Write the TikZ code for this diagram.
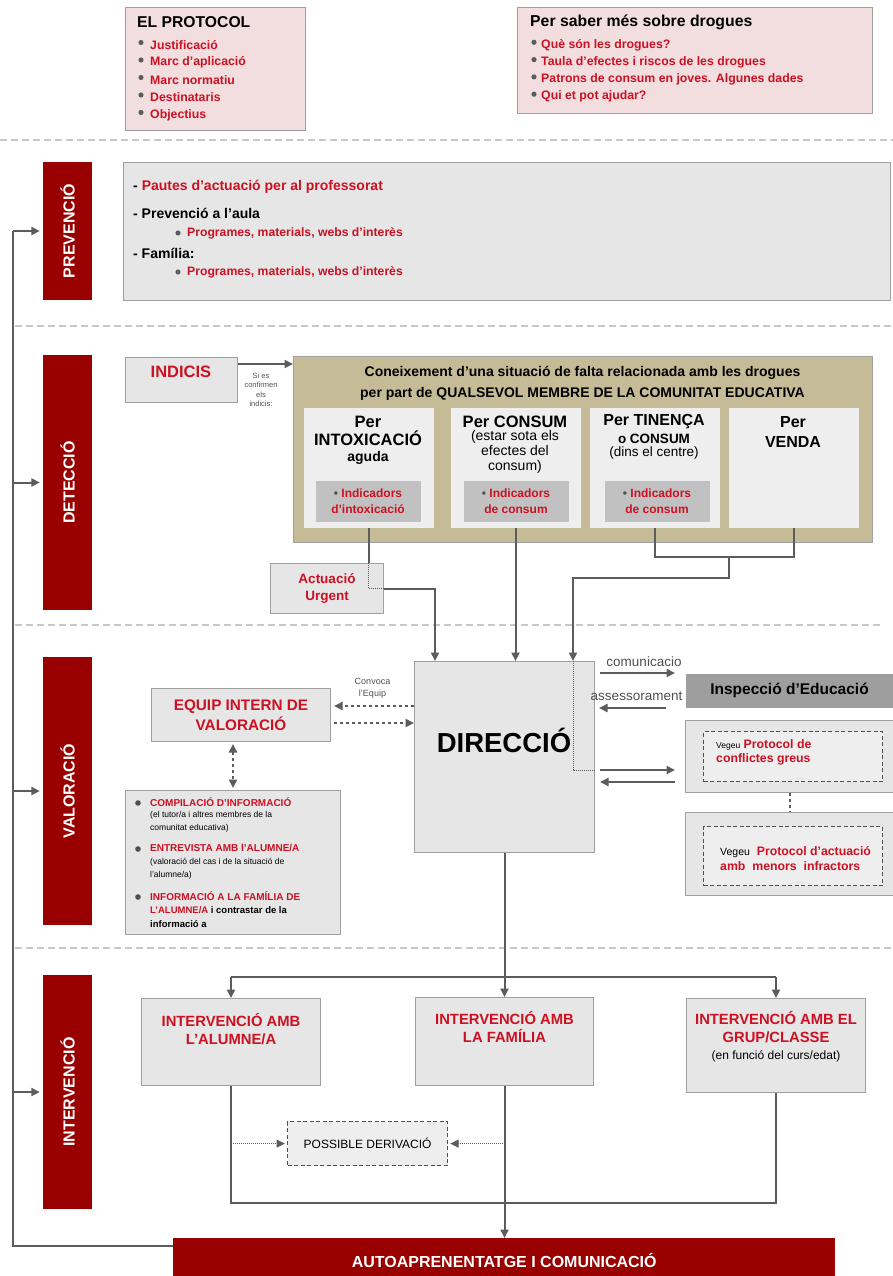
\documentclass[tikz,border=0pt]{standalone}
\usepackage{fontspec}
\setmainfont{Liberation Sans}
\usetikzlibrary{arrows.meta, positioning}

\definecolor{barred}{RGB}{153,0,0}
\definecolor{txtred}{RGB}{204,17,34}
\definecolor{boxgray}{RGB}{230,230,230}
\definecolor{boxline}{RGB}{160,160,160}
\definecolor{pinkfill}{RGB}{242,222,223}
\definecolor{khaki}{RGB}{197,188,151}
\definecolor{palegray}{RGB}{238,238,238}
\definecolor{indgray}{RGB}{193,193,193}
\definecolor{inspgray}{RGB}{158,158,158}
\definecolor{linegray}{RGB}{92,92,92}
\definecolor{sepgray}{RGB}{200,200,200}
\definecolor{dotgray}{RGB}{80,80,80}

\newcommand{\fsz}[2]{\fontsize{#1}{#2}\selectfont}
\newcommand{\rd}[1]{\textcolor{txtred}{#1}}

\begin{document}
\begin{tikzpicture}[x=1pt, y=-1pt, >={Triangle[length=8.5pt, width=8pt]}]

        % Setup the styles for the boxes and lines
        \tikzset{box style/.style={draw=boxline, fill=boxgray, line width=1pt,
                                   inner sep=0pt, anchor=north west},
                 inner style/.style={box style, draw=none},
                 dash style/.style={box style, draw=dotgray, line width=1.2pt,
                                    dash pattern=on 4pt off 2.5pt},
                 bar style/.style={fill=barred, minimum width=49, inner sep=0pt,
                                   text=white, font=\bfseries\fsz{16}{19}},
                 line style/.style={draw=linegray, line width=2pt},
                 sep style/.style={draw=sepgray, line width=1.8pt,
                                   dash pattern=on 7pt off 4pt},
                 txt/.style={inner sep=0pt, anchor=west},
                 red item/.style={txt, text=txtred, font=\bfseries\fsz{12.3}{14}}
                 }

        \fill[white] (0,0) rectangle (893,1276);
        \useasboundingbox (0,0) rectangle (893,1276);

        % Separators between the phases
        \draw[sep style] (0,140) -- (893,140);
        \draw[sep style] (15,326) -- (893,326);
        \draw[sep style] (15,625) -- (880,625);
        \draw[sep style] (15,948) -- (893,948);

        % Top boxes
        \node[box style, fill=pinkfill, minimum width=180, minimum height=123] at (125,7) (protocol) {};
        \node[txt, font=\bfseries\fsz{15.7}{18}] at (137,22) {EL PROTOCOL};
        \foreach \entry [count=\i] in {Justificació, Marc d'aplicació, Marc normatiu, Destinataris, Objectius} {
            \fill[linegray] (141,25+17.5*\i) circle (2.6);
            \node[red item] at (150,27.5+17.5*\i) {\entry};
        }
        \node[box style, fill=pinkfill, minimum width=355, minimum height=106] at (517,7) (drogues) {};
        \node[txt, font=\bfseries\fsz{15.8}{18}] at (530,22) {Per saber més sobre drogues};
        \foreach \entry [count=\i] in {Què són les drogues?, Taula d'efectes i riscos de les drogues, Patrons de consum en joves. Algunes dades, Qui et pot ajudar?} {
            \fill[linegray] (534,25+17.3*\i) circle (2.6);
            \node[red item] at (541,27.5+17.3*\i) {\entry};
        }

        % Phase bars
        \node[bar style, minimum height=138] at (67.5,231) (prev) {\rotatebox{90}{PREVENCIÓ}};
        \node[bar style, minimum height=255] at (67.5,482.5) (detec) {\rotatebox{90}{DETECCIÓ}};
        \node[bar style, minimum height=268] at (67.5,791) (valor) {\rotatebox{90}{VALORACIÓ}};
        \node[bar style, minimum height=234] at (67.5,1092) (interv) {\rotatebox{90}{INTERVENCIÓ}};

        % Prevencio
        \node[box style, minimum width=767, minimum height=138] at (123,162) (prevbox) {};
        \node[txt, font=\bfseries\fsz{14}{16}] at (133,187) {- \rd{Pautes d'actuació per al professorat}};
        \node[txt, font=\bfseries\fsz{14}{16}] at (133,213) {- Prevenció a l'aula};
        \node[txt, font=\bfseries\fsz{14}{16}] at (133,253) {- Família:};
        \foreach \y in {233,272} {
            \fill[linegray] (178,\y) circle (2.6);
            \node[red item, font=\bfseries\fsz{12.2}{14}] at (187,\y) {Programes, materials, webs d'interès};
        }

        % Deteccio
        \node[box style, minimum width=112, minimum height=45] at (125,357) (indicis) {};
        \node[font=\bfseries\fsz{16.5}{18}, text=txtred] at (181,372) {INDICIS};
        \node[box style, fill=khaki, minimum width=579, minimum height=186] at (293,356) (cone) {};
        \node[font=\bfseries\fsz{14}{21}, align=center] at (582.5,383.5)
            {Coneixement d'una situació de falta relacionada amb les drogues\\per part de QUALSEVOL MEMBRE DE LA COMUNITAT EDUCATIVA};
        \foreach \x/\name in {303/intox, 450/consum, 589/tinenca, 728/venda}
            \node[inner style, fill=palegray, minimum width=130, minimum height=120] at (\x,407) (\name) {};
        \foreach \x/\name in {315/indint, 463/indcon, 604/indten}
            \node[inner style, fill=indgray, minimum width=105, minimum height=41] at (\x,480) (\name) {};
        \node[font=\bfseries\fsz{16.5}{18}, align=center] at (368,431) {Per\\INTOXICACIÓ};
        \node[font=\bfseries\fsz{14}{15}] at (368,458) {aguda};
        \node[font=\bfseries\fsz{16.5}{18}] at (515,422) {Per CONSUM};
        \node[font=\fsz{14}{15}, align=center] at (515,452) {(estar sota els\\efectes del\\consum)};
        \node[font=\bfseries\fsz{16}{18}] at (654,422) {Per TINENÇA};
        \node[font=\bfseries\fsz{13.5}{15}] at (654,439) {o CONSUM};
        \node[font=\fsz{13.5}{15}] at (654,453) {(dins el centre)};
        \node[font=\bfseries\fsz{16}{20}, align=center] at (793,432) {Per\\VENDA};
        \node[align=center, text=txtred, font=\bfseries\fsz{12}{16}] at (indint) {\textcolor{dotgray}{\textbullet}\ Indicadors\\d'intoxicació};
        \node[align=center, text=txtred, font=\bfseries\fsz{12}{16}] at (indcon) {\textcolor{dotgray}{\textbullet}\ Indicadors\\de consum};
        \node[align=center, text=txtred, font=\bfseries\fsz{12}{16}] at (indten) {\textcolor{dotgray}{\textbullet}\ Indicadors\\de consum};
        \node[box style, minimum width=113, minimum height=50, align=center, text=txtred,
              font=\bfseries\fsz{13.5}{17}] at (270,563) (urgent) {Actuació\\Urgent};

        % Valoracio
        \node[box style, minimum width=180, minimum height=191] at (414,661) (direccio) {};
        \node[font=\bfseries\fsz{27.5}{30}] at (504,740) {DIRECCIÓ};
        \node[box style, fill=inspgray, draw=none, minimum width=208, minimum height=34,
              font=\bfseries\fsz{15.5}{18}] at (685,673) (inspec) {Inspecció d'Educació};
        \node[box style, minimum width=208, minimum height=72] at (685,720) (greus) {};
        \node[dash style, fill=palegray, minimum width=179, minimum height=50] at (703,731) (greusin) {};
        \node[red item] at (716,745) {{\mdseries\fsz{8.5}{10}\color{black}Vegeu} Protocol de};
        \node[red item] at (716,759) {conflictes greus};
        \node[box style, minimum width=208, minimum height=83] at (685,812) (menors) {};
        \node[dash style, fill=palegray, minimum width=179, minimum height=59] at (703,826) (menorsin) {};
        \node[red item] at (720,852) {{\mdseries\fsz{10.5}{12}\color{black}Vegeu}\ \ Protocol d'actuació};
        \node[red item] at (720,866) {amb\ \ menors\ \ infractors};
        \node[box style, minimum width=179, minimum height=53, align=center, text=txtred,
              font=\bfseries\fsz{15.3}{20}] at (151,688) (equip) {EQUIP INTERN DE\\VALORACIÓ};
        \node[box style, minimum width=215, minimum height=144] at (125,790) (info) {};
        \foreach \y in {803,849,897}
            \fill[dotgray] (138,\y) circle (2.8);
        \node[red item, font=\bfseries\fsz{10}{11}] at (150,802) {COMPILACIÓ D'INFORMACIÓ};
        \node[txt, font=\fsz{8.5}{10}] at (150,815) {(el tutor/a i altres membres de la};
        \node[txt, font=\fsz{8.5}{10}] at (150,828) {comunitat educativa)};
        \node[red item, font=\bfseries\fsz{10}{11}] at (150,848) {ENTREVISTA AMB l'ALUMNE/A};
        \node[txt, font=\fsz{8.5}{10}] at (150,862) {(valoració del cas i de la situació de};
        \node[txt, font=\fsz{8.5}{10}] at (150,875) {l'alumne/a)};
        \node[red item, font=\bfseries\fsz{10}{11}] at (150,896) {INFORMACIÓ A LA FAMÍLIA DE};
        \node[txt, font=\bfseries\fsz{9.5}{11}] at (150,910) {\rd{L'ALUMNE/A} i contrastar de la};
        \node[txt, font=\bfseries\fsz{9.5}{11}] at (150,924) {informació a};

        % Intervencio
        \node[box style, minimum width=179, minimum height=87] at (141,998) (alumne) {};
        \node[box style, minimum width=178, minimum height=88] at (415,997) (familia) {};
        \node[box style, minimum width=179, minimum height=94] at (686,998) (grup) {};
        \node[anchor=north, inner sep=0pt, align=center, text=txtred, font=\bfseries\fsz{14.8}{18}]
            at ([yshift=-15pt]alumne.north) {INTERVENCIÓ AMB\\L'ALUMNE/A};
        \node[anchor=north, inner sep=0pt, align=center, text=txtred, font=\bfseries\fsz{14.8}{18}]
            at ([yshift=-14pt]familia.north) {INTERVENCIÓ AMB\\LA FAMÍLIA};
        \node[anchor=north, inner sep=0pt, align=center, text=txtred, font=\bfseries\fsz{14.8}{18}]
            at ([yshift=-13pt]grup.north) {INTERVENCIÓ AMB EL\\GRUP/CLASSE};
        \node[font=\fsz{12}{12}] at (776,1056) {(en funció del curs/edat)};
        \node[dash style, fill=palegray, minimum width=160, minimum height=44,
              font=\fsz{12}{14}] at (287,1121) (deriv) {POSSIBLE DERIVACIÓ};
        \node[bar style, anchor=north west, minimum width=662, minimum height=44,
              font=\bfseries\fsz{16}{18}] at (173,1238) (auto) {AUTOAPRENENTATGE I COMUNICACIÓ};

        % Connect the boxes with arrows
        \coordinate (ind) at ([yshift=-7pt]indicis.north east);
        \draw[line style, ->] (ind) -- (ind -| cone.west);
        \node[align=center, text=dotgray, font=\fsz{7.5}{9.5}] at (261,390) {Si es\\confirmen\\els\\indicis:};

        \draw[line style] (intox.south) -- (intox.south |- urgent.north);
        \draw[line style, line width=1pt, densely dotted] (intox.south |- urgent.north) -- (intox.south |- urgent.east) -- (urgent.east);
        \coordinate (dirA) at ([xshift=21pt]direccio.north west);
        \draw[line style, ->] (urgent.east) -| (dirA);
        \draw[line style, ->] (consum.south) -- (consum.south |- direccio.north);
        \coordinate (join) at (729,557);
        \draw[line style] (tinenca.south) |- (join) -| (venda.south);
        \coordinate (dirB) at ([xshift=-22pt]direccio.north east);
        \draw[line style, ->] (join) -- ++(0,21) -| (dirB);

        \coordinate (toG) at (675,770);
        \coordinate (fromG) at (675,782);
        \draw[line style, line width=1pt, densely dotted] (dirB) -- (dirB |- toG) -- (toG -| direccio.east);
        \draw[line style, ->, shorten <=5pt] (toG -| direccio.east) -- (toG);
        \draw[line style, ->, shorten >=5pt] (fromG) -- (fromG -| direccio.east);
        \draw[line style, dashed] (greus.south) -- (menors.north);

        \coordinate (com) at ([yshift=-12pt]direccio.north east);
        \draw[line style, ->, shorten <=5pt, shorten >=10pt] (com) -- (com -| inspec.west)
            node[midway, above=2pt, xshift=4pt, text=dotgray, font=\fsz{13.5}{16}] {comunicacio};
        \coordinate (ase) at ([xshift=-19pt]inspec.south west);
        \draw[line style, ->, shorten >=4pt] (ase) -- (ase -| direccio.east)
            node[midway, above=3pt, xshift=6pt, text=dotgray, font=\fsz{13.5}{16}] {assessorament};

        \coordinate (cv) at ([yshift=-18pt]equip.north east);
        \coordinate (cw) at ([yshift=-35pt]equip.north east);
        \draw[line style, dashed, ->, shorten >=3pt] (cv -| direccio.west) -- (cv)
            node[midway, above=3pt, align=center, text=dotgray, font=\fsz{9}{12}] {Convoca\\l'Equip};
        \draw[line style, dashed, ->, shorten <=3pt] (cw) -- (cw -| direccio.west);
        \draw[line style, dashed, <->, shorten <=2pt, shorten >=2pt] (info.north |- equip.south) -- (info.north);

        \draw[line style, ->] (direccio.south) -- (familia.north);
        \coordinate (split) at (504,977);
        \draw[line style] (split -| alumne.north) -- (split -| grup.north);
        \draw[line style, ->] (split -| alumne.north) -- (alumne.north);
        \draw[line style, ->] (split -| grup.north) -- (grup.north);
        \coordinate (merge) at (504,1203);
        \draw[line style] (alumne.south) |- (merge) -| (grup.south);
        \draw[line style, ->] (familia.south) -- (familia.south |- auto.north);
        \draw[line style, line width=1pt, densely dotted, ->, shorten >=2pt] (deriv.west -| alumne.south) -- (deriv.west);
        \draw[line style, line width=1pt, densely dotted, ->, shorten >=2pt] (deriv.east -| familia.south) -- (deriv.east);

        % Feedback line to every phase
        \coordinate (back) at (13,1246);
        \draw[line style] (back -| auto.west) -- (back) -- (back |- prev.west);
        \foreach \b in {prev, detec, valor, interv}
            \draw[line style, ->, shorten >=3pt] (back |- \b.west) -- (\b.west);

\end{tikzpicture}
\end{document}
